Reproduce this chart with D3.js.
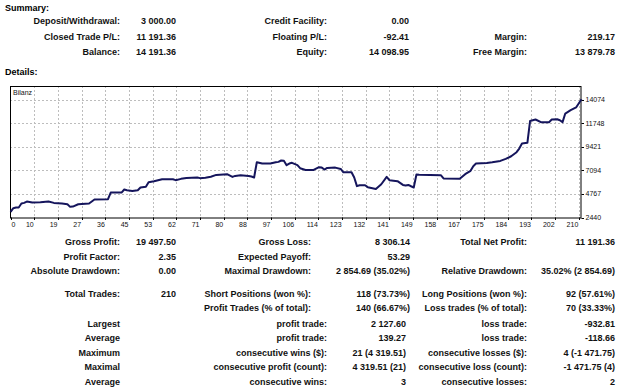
<!DOCTYPE html>
<html>
<head>
<meta charset="utf-8">
<script src="https://cdn.jsdelivr.net/npm/d3@7"></script>
<style>
  body { margin: 0; background: #fff; }
  text { font-family: "Liberation Sans", Arial, sans-serif; }
</style>
</head>
<body>
<div id="report"></div>
<script>
// balance after each trade
const tradeIdx = [0, 1, 2, 3, 4, 5, 6, 8, 11, 14, 16, 19, 21, 22, 23, 25, 29, 31, 36, 37,
  41, 42, 43, 45, 47, 48, 50, 51, 53, 56, 60, 61, 63, 65, 69, 70, 72, 74, 76, 80,
  82, 83, 85, 88, 89, 90, 91, 93, 96, 98, 99, 100, 101, 102, 103, 104, 106, 107, 109, 112,
  114, 115, 116, 117, 120, 122, 123, 126, 127, 128, 129, 131, 132, 135, 137, 139, 140, 143, 145, 146,
  147, 148, 149, 150, 151, 159, 160, 166, 168, 170, 171, 172, 176, 178, 181, 183, 185, 187, 188, 189,
  191, 192, 194, 196, 199, 200, 202, 203, 204, 205, 207, 209, 211];
const balance = [3000, 3360, 3430, 3430, 3820, 3880, 4010, 3920, 3950, 4010, 3880, 3820, 3750, 3490, 3520, 3750, 3820, 4210, 4240, 4900,
  4900, 5200, 5130, 5060, 5130, 5400, 5480, 5920, 6020, 6210, 6210, 6120, 6250, 6340, 6380, 6320, 6350, 6460, 6640, 6710,
  6440, 6540, 6610, 6540, 6480, 6380, 7890, 7760, 7760, 7890, 7925, 8060, 8030, 7600, 7760, 7830, 7600, 7300, 7130, 7130,
  7400, 7360, 7170, 7330, 7360, 7230, 6900, 6900, 6380, 5530, 5625, 5625, 5430, 5260, 5720, 6440, 6120, 6020, 5650, 5600,
  5650, 5520, 5400, 6680, 6650, 6610, 6290, 6250, 6710, 7040, 7500, 7760, 7820, 7890, 8020, 8220, 8480, 8880, 9240, 9740,
  9800, 11960, 12100, 11840, 11840, 12100, 12130, 12030, 11840, 12690, 13020, 13290, 14100];

const xTickLabels = ["0", "10", "19", "27", "36", "45", "53", "62", "71", "80", "88", "97", "106",
  "114", "123", "132", "141", "149", "158", "167", "175", "184", "193", "202", "210"];
const yTickValues = [2440, 4767, 7094, 9421, 11748, 14074];

// report tables
const summaryRows = [
  ["Deposit/Withdrawal:", "3 000.00", "Credit Facility:", "0.00", "", ""],
  ["Closed Trade P/L:", "11 191.36", "Floating P/L:", "-92.41", "Margin:", "219.17"],
  ["Balance:", "14 191.36", "Equity:", "14 098.95", "Free Margin:", "13 879.78"]
];
const detailRows = [
  ["Gross Profit:", "19 497.50", "Gross Loss:", "8 306.14", "Total Net Profit:", "11 191.36"],
  ["Profit Factor:", "2.35", "Expected Payoff:", "53.29", "", ""],
  ["Absolute Drawdown:", "0.00", "Maximal Drawdown:", "2 854.69 (35.02%)", "Relative Drawdown:", "35.02% (2 854.69)"],
  ["Total Trades:", "210", "Short Positions (won %):", "118 (73.73%)", "Long Positions (won %):", "92 (57.61%)"],
  ["", "", "Profit Trades (% of total):", "140 (66.67%)", "Loss trades (% of total):", "70 (33.33%)"]
];
const extremeRows = [
  ["Largest", "", "profit trade:", "2 127.60", "loss trade:", "-932.81"],
  ["Average", "", "profit trade:", "139.27", "loss trade:", "-118.66"],
  ["Maximum", "", "consecutive wins ($):", "21 (4 319.51)", "consecutive losses ($):", "4 (-1 471.75)"],
  ["Maximal", "", "consecutive profit (count):", "4 319.51 (21)", "consecutive loss (count):", "-1 471.75 (4)"],
  ["Average", "", "consecutive wins:", "3", "consecutive losses:", "2"]
];

const width = 625, height = 391;
const svg = d3.select("#report").append("svg")
  .attr("width", width).attr("height", height);

// right edges of the table columns
const summaryCols = [120, 176, 327, 409, 527, 615];
const detailCols = [120, 176, 311, 410, 527, 615];
const extremeCols = [120, 176, 327, 406, 527, 615];
const fs = 9;

function drawRows(rows, cols, baselines) {
  rows.forEach((row, r) => {
    row.forEach((t, c) => {
      if (!t) return;
      svg.append("text")
        .attr("x", cols[c]).attr("y", baselines[r])
        .attr("text-anchor", "end")
        .attr("font-size", fs).attr("font-weight", "bold")
        .attr("fill", "#111")
        .text(t);
    });
  });
}

svg.append("text").attr("x", 5).attr("y", 10.5)
  .attr("font-size", fs).attr("font-weight", "bold").text("Summary:");
svg.append("text").attr("x", 5).attr("y", 75)
  .attr("font-size", fs).attr("font-weight", "bold").text("Details:");

drawRows(summaryRows, summaryCols, [24, 39.5, 55]);
drawRows(detailRows, detailCols, [245, 259.5, 274, 296.5, 311]);
drawRows(extremeRows, extremeCols, [326.5, 341, 355.5, 370, 384.5]);

// chart
const plotLeft = 10, plotRight = 581.5, plotTop = 86, plotBottom = 217.5;

const x = d3.scaleLinear().domain([0, 211]).range([plotLeft + 0.6, plotRight]);
const y = d3.scaleLinear().domain([2440, 14074]).range([plotBottom, 99.5]);
const tickPos = xTickLabels.map((d, i) => i * 210 / 24);

const chart = svg.append("g");

// grid
chart.selectAll(".vgrid").data(tickPos.slice(1)).join("line")
  .attr("x1", d => Math.round(x(d)) + 0.5).attr("x2", d => Math.round(x(d)) + 0.5)
  .attr("y1", plotTop).attr("y2", plotBottom)
  .attr("stroke", "#bdbdbd").attr("stroke-dasharray", "2,2");
chart.selectAll(".hgrid").data(yTickValues.slice(1)).join("line")
  .attr("x1", plotLeft).attr("x2", plotRight)
  .attr("y1", d => Math.round(y(d)) + 0.5).attr("y2", d => Math.round(y(d)) + 0.5)
  .attr("stroke", "#bdbdbd").attr("stroke-dasharray", "2,2");

// frame
chart.append("rect")
  .attr("x", plotLeft + 0.5).attr("y", plotTop + 0.5)
  .attr("width", plotRight - plotLeft - 1).attr("height", plotBottom - plotTop)
  .attr("fill", "none").attr("stroke", "#000");

// axes ticks + labels
chart.selectAll(".xt").data(tickPos).join("line")
  .attr("x1", d => Math.round(x(d)) + 0.5).attr("x2", d => Math.round(x(d)) + 0.5)
  .attr("y1", plotBottom).attr("y2", plotBottom + 2.5).attr("stroke", "#000");
chart.selectAll(".xl").data(tickPos).join("text")
  .attr("x", (d, i) => i === 0 ? x(d) + 1 : x(d) - 0.5)
  .attr("y", 227)
  .attr("text-anchor", (d, i) => i === 0 ? "start" : "end")
  .attr("font-size", 7).attr("fill", "#111")
  .text((d, i) => xTickLabels[i]);

chart.selectAll(".yt").data(yTickValues).join("line")
  .attr("x1", plotRight).attr("x2", plotRight + 2.5)
  .attr("y1", d => Math.round(y(d)) + 0.5).attr("y2", d => Math.round(y(d)) + 0.5)
  .attr("stroke", "#000");
chart.selectAll(".yl").data(yTickValues).join("text")
  .attr("x", plotRight + 4).attr("y", d => y(d) + 2.5)
  .attr("font-size", 7).attr("fill", "#111")
  .text(d => d);

chart.append("text").attr("x", 13).attr("y", 94.5)
  .attr("font-size", 7).attr("fill", "#111").text("Bilanz");

// balance line
const pts = tradeIdx.map((d, i) => [d, balance[i]]);
const line = d3.line().x(d => x(d[0])).y(d => y(d[1]));
chart.append("path")
  .attr("d", line(pts))
  .attr("fill", "none")
  .attr("stroke", "#15155c")
  .attr("stroke-width", 2)
  .attr("stroke-linejoin", "round");
</script>
</body>
</html>
